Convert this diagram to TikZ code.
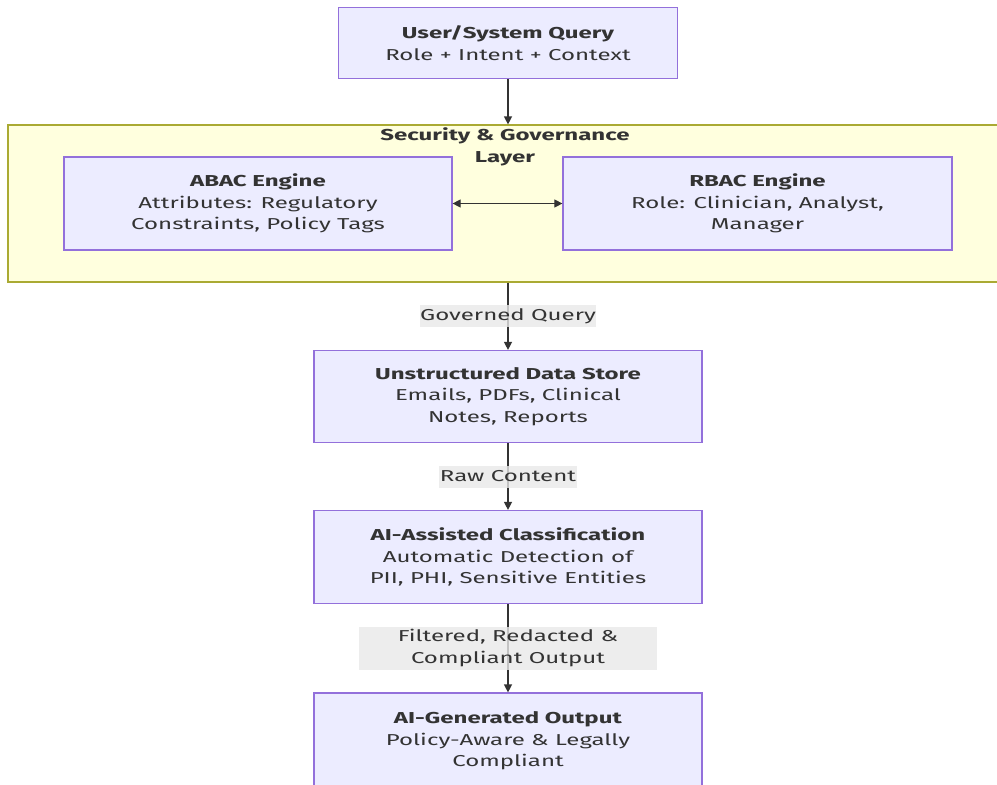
\documentclass[tikz,border=0pt]{standalone}
\usepackage{fontspec}
\setmainfont{Fira Sans}[FakeStretch=1.52]
\usepackage{xcolor}
\usepackage{tikz}
\usetikzlibrary{positioning, calc, arrows.meta}
\definecolor{boxfill}{HTML}{ECECFF}
\definecolor{boxline}{HTML}{9370DB}
\definecolor{layerfill}{HTML}{FFFFDE}
\definecolor{layerline}{HTML}{AAAA33}
\definecolor{labelfill}{HTML}{E8E8E8}
\definecolor{textgray}{HTML}{333333}
\tikzset{
    stepbox/.style={draw=boxline, fill=boxfill, line width=1.2pt, align=center, text=textgray, inner sep=0pt},
    layerbox/.style={draw=layerline, fill=layerfill, line width=1.2pt, inner sep=0pt},
    elabel/.style={fill=labelfill, fill opacity=0.8, text opacity=1, text=textgray, align=center, inner sep=0pt},
    flow/.style={draw=textgray, line width=1.3pt, -{Triangle[length=8pt, width=8pt]}},
    twoway/.style={draw=textgray, line width=1.1pt, {Triangle[length=8pt, width=8pt]}-{Triangle[length=8pt, width=8pt]}}
}

\begin{document}
\begin{tikzpicture}[x=1pt, y=-1pt, font=\fontsize{15.8}{21.5}\selectfont]
        \useasboundingbox (0,0) rectangle (997,785);
        \node[stepbox, minimum width=339pt, minimum height=71pt] (query) at (508,43) {
            \textbf{User/System Query} \\ Role + Intent + Context
        };
        \node[layerbox, minimum width=993pt, minimum height=157pt] (layer) at (504.5,203.5) {};
        \node[text=textgray, align=center] (layertitle) at (505,147) {
            \textbf{Security \& Governance} \\ \textbf{Layer}
        };
        \node[stepbox, minimum width=388pt, minimum height=93pt] (abac) at (258,203.5) {
            \textbf{ABAC Engine} \\ Attributes: Regulatory \\ Constraints, Policy Tags
        };
        \node[stepbox, minimum width=389pt, minimum height=93pt] (rbac) at (757.5,203.5) {
            \textbf{RBAC Engine} \\ Role: Clinician, Analyst, \\ Manager
        };
        \node[stepbox, minimum width=388pt, minimum height=92pt] (store) at (508,396.5) {
            \textbf{Unstructured Data Store} \\ Emails, PDFs, Clinical \\ Notes, Reports
        };
        \node[stepbox, minimum width=388pt, minimum height=93pt] (classify) at (508,557) {
            \textbf{AI-Assisted Classification} \\ Automatic Detection of \\ PII, PHI, Sensitive Entities
        };
        \node[stepbox, minimum width=388pt, minimum height=96pt] (output) at (508,741) {
            \textbf{AI-Generated Output} \\ Policy-Aware \& Legally \\ Compliant
        };

        % connectors
        \draw[flow] (query) -- (query |- layer.north);
        \draw[twoway] (abac) -- (rbac);
        \draw[flow] (store |- layer.south) -- node[elabel, minimum width=174pt, minimum height=22pt] (governed) {Governed Query} (store);
        \draw[flow] (store) -- node[elabel, minimum width=138pt, minimum height=22pt] (raw) {Raw Content} (classify);
        \draw[flow] (classify) -- node[elabel, minimum width=298pt, minimum height=43pt] (filtered) {Filtered, Redacted \& \\ Compliant Output} (output);
    \end{tikzpicture}
\end{document}
